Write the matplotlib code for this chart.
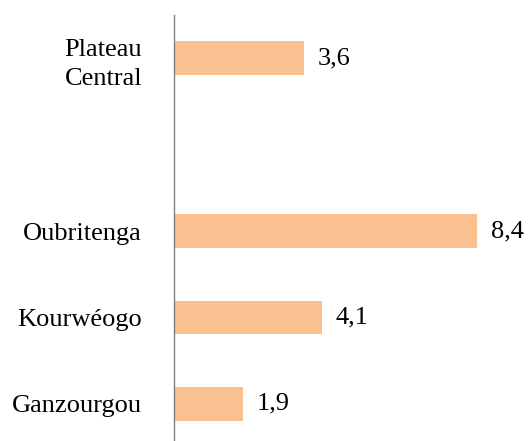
import matplotlib.pyplot as plt

plt.rcParams['font.family'] = ['Liberation Serif', 'DejaVu Serif']

# data
regions = ['Ganzourgou', 'Kourwéogo', 'Oubritenga', 'Plateau\nCentral']
values = [1.9, 4.1, 8.4, 3.6]
labels = ['1,9', '4,1', '8,4', '3,6']
ypos = [0, 1, 2, 4]

fig = plt.figure(figsize=(5.28, 4.41), dpi=100)
ax = fig.add_axes([174 / 528, 0, 354 / 528, 426 / 441])

ax.barh(ypos, values, height=0.39, color='#FAC090')
for y, v, t in zip(ypos, values, labels):
    ax.text(v + 0.38, y, t, va='center', ha='left', fontsize=19)

ax.set_xlim(0, 9.815)
ax.set_ylim(-0.43, 4.5)
ax.set_yticks(ypos)
ax.set_yticklabels(regions, fontsize=19, multialignment='center', linespacing=1.4)
ax.tick_params(axis='y', length=0, pad=23)
ax.set_xticks([])

for s in ['top', 'right', 'bottom']:
    ax.spines[s].set_visible(False)
ax.spines['left'].set_color('#808080')
ax.spines['left'].set_linewidth(1)

fig.savefig('out.png', dpi=100)
